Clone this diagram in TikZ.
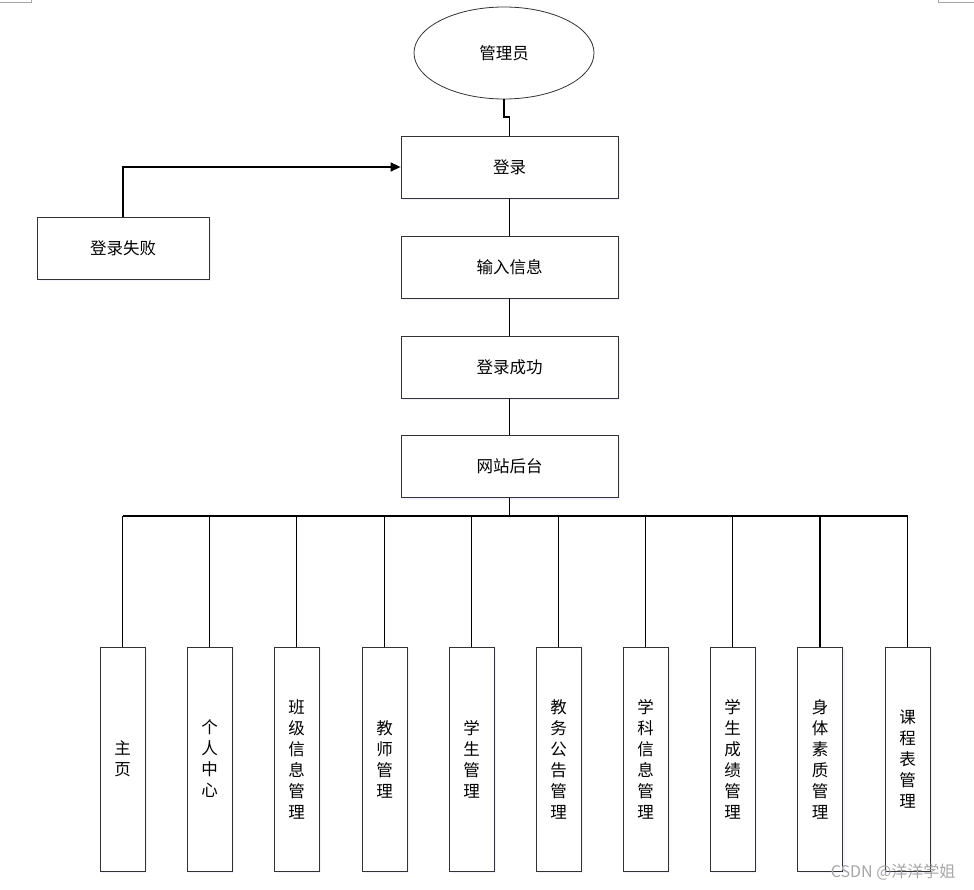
\documentclass[tikz,border=0pt]{standalone}
\usepackage{fontspec}
\newfontfamily\cjk{Noto Sans CJK SC}
\usetikzlibrary{shapes.geometric,arrows.meta,shadows}
\begin{document}
\begin{tikzpicture}[x=1pt,y=-1pt,
  box/.style={draw=black!80,line width=0.8pt,fill=white,inner sep=0pt,
    font=\cjk\fontsize{16.5}{21}\selectfont,align=center,
    drop shadow={opacity=0.12,shadow xshift=2pt,shadow yshift=-2pt,fill=blue!40}},
  wide/.style={box,minimum width=217pt,minimum height=62pt},
  tall/.style={box,minimum width=45pt,minimum height=224pt},
  conn/.style={line width=1.4pt,black}]
\useasboundingbox (0,0) rectangle (974,890);
\draw[black!35,line width=0.6pt] (0,2) -- (31,2) -- (31,0);
\draw[black!35,line width=0.6pt] (938,0) -- (938,2) -- (974,2);

\node[draw=black!80,line width=0.8pt,ellipse,minimum width=180pt,minimum height=92pt,
  font=\cjk\fontsize{16.5}{21}\selectfont] (admin) at (504,53) {管理员};
\node[wide] (login) at (509.5,167) {登录};
\node[wide] (input) at (509.5,267) {输入信息};
\node[wide] (ok) at (509.5,367) {登录成功};
\node[wide] (site) at (509.5,466.5) {网站后台};
\node[box,minimum width=172pt,minimum height=62pt] (fail) at (123,248) {登录失败};

\node[tall] (b1) at (122.5,759) {主\\页};
\node[tall] (b2) at (209.5,759) {个\\人\\中\\心};
\node[tall] (b3) at (296.5,759) {班\\级\\信\\息\\管\\理};
\node[tall] (b4) at (384.5,759) {教\\师\\管\\理};
\node[tall] (b5) at (471.5,759) {学\\生\\管\\理};
\node[tall] (b6) at (558.5,759) {教\\务\\公\\告\\管\\理};
\node[tall] (b7) at (645.5,759) {学\\科\\信\\息\\管\\理};
\node[tall] (b8) at (732.5,759) {学\\生\\成\\绩\\管\\理};
\node[tall] (b9) at (820,759) {身\\体\\素\\质\\管\\理};
\node[tall] (b10) at (907.5,759) {课\\程\\表\\管\\理};

\coordinate (jog) at (504,117);
\draw[conn] (admin.south) -- (jog) -| (login.north);
\draw[conn,-{Triangle[length=10pt,width=9pt]}] (fail.north) |- (login.west);
\draw[conn] (login.south) -- (input.north);
\draw[conn] (input.south) -- (ok.north);
\draw[conn] (ok.south) -- (site.north);
\coordinate (bus) at (509.5,516);
\draw[conn] (site.south) -- (bus);
\draw[conn] (b1.north |- bus) -- (b10.north |- bus);
\foreach \i in {1,...,10}{\draw[conn] (b\i.north |- bus) -- (b\i.north);}

\node[font=\cjk\fontsize{16}{18}\selectfont,text=black!35,anchor=east] (wm) at (959,872) {CSDN @洋洋学姐};
\end{tikzpicture}
\end{document}
